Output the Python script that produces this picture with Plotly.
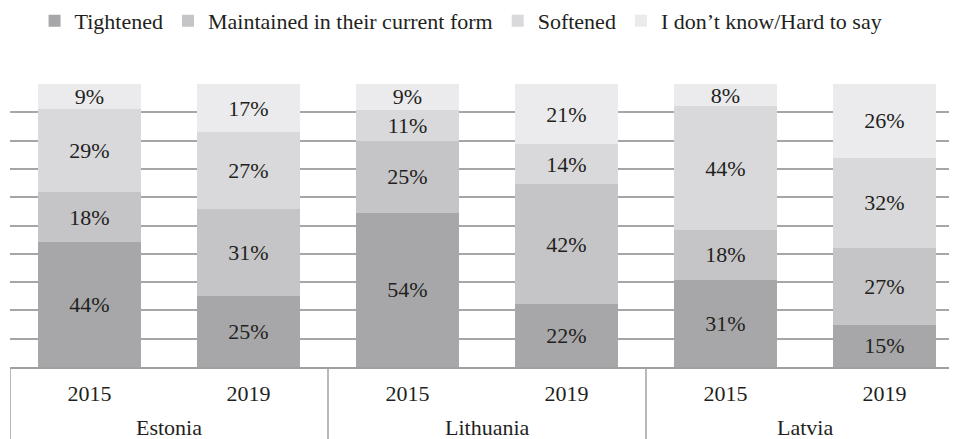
import plotly.graph_objects as go

countries = ["Estonia", "Estonia", "Lithuania", "Lithuania", "Latvia", "Latvia"]
years = ["2015", "2019", "2015", "2019", "2015", "2019"]

tightened = [44, 25, 54, 22, 31, 15]
maintained = [18, 31, 25, 42, 18, 27]
softened = [29, 27, 11, 14, 44, 32]
dont_know = [9, 17, 9, 21, 8, 26]

series = [
    ("Tightened", tightened, "#a7a7a9"),
    ("Maintained in their current form", maintained, "#c5c5c7"),
    ("Softened", softened, "#d9d9db"),
    ("I don\u2019t know/Hard to say", dont_know, "#ebebed"),
]

cats = [f"{c} {y}" for c, y in zip(countries, years)]
groups = list(dict.fromkeys(countries))

FONT = "Liberation Serif"
LINE = "#a0a0a0"
fig = go.Figure()
for name, vals, color in series:
    fig.add_trace(go.Bar(
        x=cats, y=vals, name=name,
        marker=dict(color=color, line=dict(width=0)),
        text=[f"{v}%" for v in vals], textposition="inside",
        insidetextanchor="middle", textangle=0, constraintext="none",
        textfont=dict(family=FONT, size=22, color="#231f20"),
    ))

# group labels and separators under the axis
for g in groups:
    idx = [i for i, c in enumerate(countries) if c == g]
    fig.add_annotation(x=sum(idx) / len(idx), y=-0.2155, xref="x", yref="paper",
                       text=g, showarrow=False, yanchor="middle",
                       font=dict(family=FONT, size=22, color="#231f20"))
    fig.add_shape(type="line", xref="x", yref="paper",
                  x0=idx[0] - 0.5, x1=idx[0] - 0.5, y0=0, y1=-0.26,
                  line=dict(color=LINE, width=1.5))

fig.update_layout(
    barmode="stack", barnorm="percent", bargap=0.357,
    width=949, height=431,
    margin=dict(l=2, r=0, t=76, b=72, autoexpand=False),
    plot_bgcolor="white", paper_bgcolor="white",
    font=dict(family=FONT, size=22, color="#231f20"),
    legend=dict(orientation="h", xref="container", yref="container",
                x=0.028, y=0.97, xanchor="left", yanchor="middle",
                font=dict(size=22), traceorder="normal"),
)
fig.update_xaxes(
    range=[-0.5, 5.456], showline=True, linecolor=LINE, linewidth=1.5,
    tickvals=cats, ticktext=years, ticklabelstandoff=6,
    tickfont=dict(size=22), ticks="", automargin=False,
)
fig.update_yaxes(
    range=[0, 100], dtick=10, showticklabels=False, automargin=False,
    showgrid=True, gridcolor="#a6a6a6", gridwidth=1.5, zeroline=False,
)
fig.write_html("out.html")
